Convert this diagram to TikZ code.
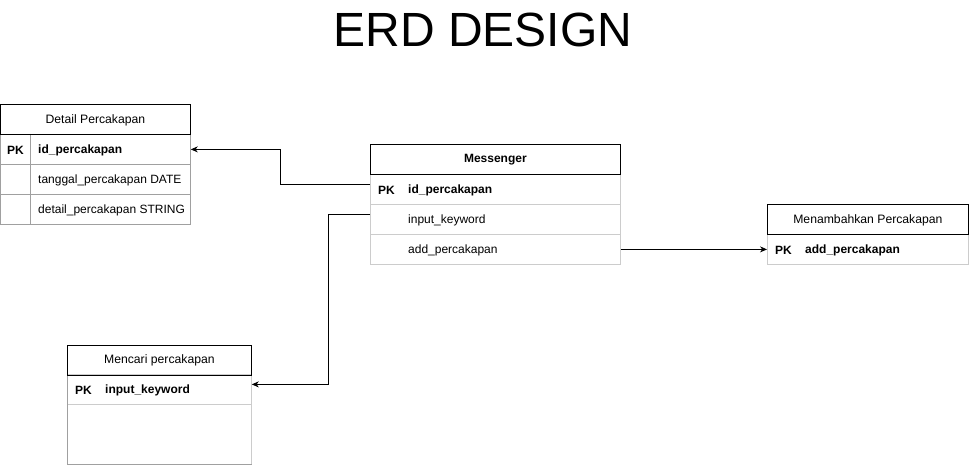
\documentclass[tikz,border=0pt]{standalone}
\usepackage{fontspec}
\setmainfont{Liberation Sans}
\usetikzlibrary{arrows.meta}
\definecolor{rowline}{HTML}{A0A0A0}
\definecolor{lightline}{HTML}{CCCCCC}
\tikzset{
  hdr/.style={draw=black, line width=0.8pt, minimum height=30pt, inner sep=0pt, font=\fontsize{12.2}{14}\selectfont},
  rowbox/.style={draw=#1, line width=0.8pt, minimum height=30pt, inner sep=0pt},
  txt/.style={anchor=west, inner sep=0pt, font=\fontsize{12}{14}\selectfont},
  pktxt/.style={txt, font=\fontsize{12}{14}\selectfont\bfseries},
  conn/.style={draw=black, line width=0.8pt, -{Stealth[length=7pt,width=6pt]}},
}
\begin{document}
\begin{tikzpicture}[x=1pt,y=-1pt]
\useasboundingbox (0,0) rectangle (969,465);
\fill[white] (0,0) rectangle (969,465);
% Title
\node[font=\fontsize{48}{52}\selectfont] (title) at (483,30) {ERD DESIGN};

% Detail Percakapan
\node[rowbox=rowline, minimum width=190pt, anchor=north west] (d1) at (0,134) {};
\node[rowbox=rowline, minimum width=190pt, anchor=north west] (d2) at (0,164) {};
\node[rowbox=rowline, minimum width=190pt, anchor=north west] (d3) at (0,194) {};
\draw[rowline, line width=0.8pt] (d1.north west) ++(30,0) coordinate (dv1) -- (d3.south west -| dv1);
\node[hdr, minimum width=190pt, anchor=north west] (dh) at (0,104.5) {Detail Percakapan};
\node[pktxt] (d1pk) at (7,150) {PK};
\node[pktxt] (d1t) at (38,150) {id\_percakapan};
\node[txt] (d2t) at (38,180) {tanggal\_percakapan DATE};
\node[txt] (d3t) at (38,210) {detail\_percakapan STRING};

% Messenger
\node[rowbox=lightline, minimum width=250pt, anchor=north west] (m1) at (370,174) {};
\node[rowbox=lightline, minimum width=250pt, anchor=north west] (m2) at (370,204) {};
\node[rowbox=lightline, minimum width=250pt, anchor=north west] (m3) at (370,234) {};
\node[hdr, minimum width=250pt, anchor=north west, font=\fontsize{12}{14}\selectfont\bfseries] (mh) at (370,144.5) {Messenger};
\node[pktxt] (m1pk) at (378,190) {PK};
\node[pktxt] (m1t) at (408,190) {id\_percakapan};
\node[txt] (m2t) at (408,220) {input\_keyword};
\node[txt] (m3t) at (408,250) {add\_percakapan};

% Menambahkan Percakapan
\node[rowbox=lightline, minimum width=201pt, anchor=north west] (a1) at (767,234) {};
\node[hdr, minimum width=201pt, anchor=north west] (ah) at (767,204.5) {Menambahkan Percakapan};
\node[pktxt] (a1pk) at (775,250) {PK};
\node[pktxt] (a1t) at (805,250) {add\_percakapan};

% Mencari percakapan
\node[rowbox=lightline, minimum width=184pt, anchor=north west] (c1) at (67,374) {};
\node[rowbox=lightline, minimum width=184pt, minimum height=60pt, anchor=north west] (c2) at (67,404) {};
\draw[rowline, line width=0.8pt] (c1.north west) -- (c2.south west) -- (c2.south east);
\node[hdr, minimum width=184pt, anchor=north west] (ch) at (67,344.5) {Mencari percakapan};
\node[pktxt] (c1pk) at (75,390) {PK};
\node[pktxt] (c1t) at (105,390) {input\_keyword};

% Connectors
\draw[conn] ([yshift=5pt]m1.west) -- ++(-90,0) |- (d1.east);
\draw[conn] ([yshift=5pt]m2.west) -- ++(-42,0) |- ([yshift=5pt]c1.east);
\draw[conn] (m3.east) -- (a1.west);
\end{tikzpicture}
\end{document}
